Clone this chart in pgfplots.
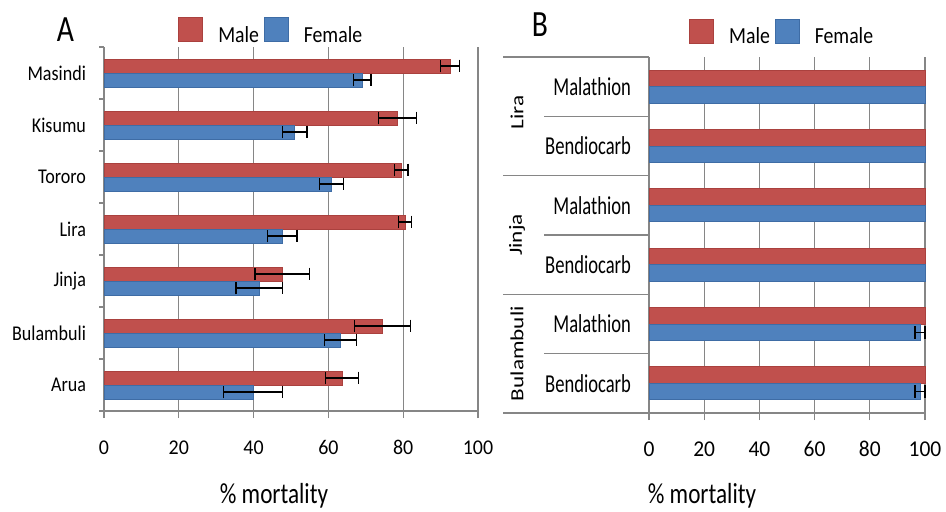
\documentclass[border=0pt]{standalone}
\usepackage{graphicx}
\usepackage{fontspec}
\usepackage{pgfplots}
\usepackage{pgfplotstable}
\pgfplotsset{compat=1.18}
\setmainfont[FakeStretch=0.86]{Carlito}
\newfontfamily\fA[FakeStretch=0.86]{Carlito}
\newfontfamily\fB[FakeStretch=0.72]{Carlito}
\newfontfamily\fC[FakeStretch=0.8]{Carlito}
\newfontfamily\fT[FakeStretch=0.95]{Carlito}
\newfontfamily\fN{Carlito}

\definecolor{mred}{RGB}{192,80,77}
\definecolor{mblue}{RGB}{79,129,189}
\definecolor{mredd}{RGB}{170,65,62}
\definecolor{mblued}{RGB}{62,108,165}
\definecolor{axgray}{RGB}{134,134,134}

% panel A: y = site index (0 = Arua ... 6 = Masindi), x = % mortality, e = error
\pgfplotstableread{
y x e
0 63.7 4.4
1 74.4 7.5
2 47.7 7.3
3 80.5 1.7
4 79.5 1.8
5 78.5 5.1
6 92.5 2.6
}\maleA
\pgfplotstableread{
y x e
0 39.9 7.9
1 63.3 4.3
2 41.5 6.2
3 47.7 3.9
4 60.9 3.2
5 51.0 3.3
6 69.1 2.3
}\femaleA

% panel B: 0/1 Bulambuli, 2/3 Jinja, 4/5 Lira (even = Bendiocarb, odd = Malathion)
\pgfplotstableread{
y x
0 100
1 100
2 100
3 100
4 100
5 100
}\maleB
\pgfplotstableread{
y x
2 100
3 100
4 100
5 100
}\femaleB
\pgfplotstableread{
y x e
0 98.2 1.8
1 98.2 1.8
}\femaleBerr

\pgfplotsset{
  panel/.style={
    scale only axis,
    anchor=south west,
    clip=false,
    xmin=0, xmax=100,
    xtick={0,20,...,100},
    axis x line*=bottom, axis y line*=left,
    axis line style={axgray, line width=0.6pt},
    tick align=outside,
    major tick length=3.5pt,
    every major x tick/.append style={axgray, line width=0.6pt},
    every major y tick/.append style={draw=none},
    xmajorgrids,
    grid style={axgray, line width=0.6pt},
    /pgf/number format/assume math mode=true,
    xbar,
    legend columns=2,
    legend style={draw=none, fill=none, inner sep=0pt, anchor=west,
      nodes={inner sep=0pt},
      /tikz/every odd column/.append style={column sep=7.5pt},
      /tikz/every even column/.append style={column sep=2.5pt}},
    xlabel={\% mortality},
  },
  ebar/.style={error bars/.cd, x dir=both, x explicit,
    error bar style={black, line width=0.65pt},
    error mark options={rotate=90, black, mark size=3.2pt, line width=0.65pt}},
  redbox/.style={legend image code/.code={\filldraw[fill=mred,draw=mredd,line width=0.4pt] (0pt,-3pt) rectangle (12pt,9pt);}},
  bluebox/.style={legend image code/.code={\filldraw[fill=mblue,draw=mblued,line width=0.4pt] (0pt,-3pt) rectangle (12pt,9pt);}},
}

\begin{document}
\begin{tikzpicture}
\useasboundingbox (0,0) rectangle (473pt,255.5pt);

% ---------- A ----------
\begin{axis}[panel,
  at={(52pt,50pt)}, width=187pt, height=182pt,
  bar width=7pt,
  ymin=-0.5, ymax=6.5,
  ytick={0,...,6},
  yticklabels={Arua,Bulambuli,Jinja,Lira,Tororo,Kisumu,Masindi},
  minor ytick={-0.5,0.5,...,6.5},
  minor tick length=2.5pt,
  every minor y tick/.append style={axgray, line width=0.6pt},
  yticklabel style={font=\fA\fontsize{10.5}{12}\selectfont, anchor=east, xshift=-2pt},
  xticklabel style={font=\fT\fontsize{10.5}{12}\selectfont, anchor=base, yshift=-18pt},
  xlabel style={at={(axis description cs:0.4545,-0.253)}, anchor=base,
    font=\fC\fontsize{14.5}{16}\selectfont},
  legend style={at={(0.198,1.043)}, font=\fA\fontsize{11.5}{13}\selectfont},
]
\addlegendimage{redbox}
\addlegendentry{Male}
\addlegendimage{bluebox}
\addlegendentry{Female}

\addplot[fill=mred, draw=mredd, line width=0.4pt, bar shift=3.5pt, forget plot, ebar]
  table[x=x, y=y, x error=e] {\maleA};
\addplot[fill=mblue, draw=mblued, line width=0.4pt, bar shift=-3.5pt, forget plot, ebar]
  table[x=x, y=y, x error=e] {\femaleA};

\node[font=\fC\fontsize{18.5}{20}\selectfont] at (axis description cs:-0.103,1.0467) {A};
\end{axis}

% ---------- B ----------
\begin{axis}[panel,
  at={(324.5pt,49pt)}, width=138pt, height=178pt,
  bar width=8.25pt,
  ymin=-0.5, ymax=5.5,
  ytick={0,...,5},
  yticklabels={Bendiocarb,Malathion,Bendiocarb,Malathion,Bendiocarb,Malathion},
  yticklabel style={font=\fB\fontsize{12.9}{14}\selectfont, anchor=east, xshift=-2pt},
  xticklabel style={font=\fT\fontsize{11.3}{13}\selectfont, anchor=base, yshift=-18pt},
  xlabel style={at={(axis description cs:0.192,-0.253)}, anchor=base,
    font=\fC\fontsize{14.5}{16}\selectfont},
  legend style={at={(0.145,1.069)}, font=\fA\fontsize{11.5}{13}\selectfont},
]
\addlegendimage{redbox}
\addlegendentry{Male}
\addlegendimage{bluebox}
\addlegendentry{Female}

\addplot[fill=mred, draw=mredd, line width=0.4pt, bar shift=4.125pt, forget plot]
  table[x=x, y=y] {\maleB};
\addplot[fill=mblue, draw=mblued, line width=0.4pt, bar shift=-4.125pt, forget plot]
  table[x=x, y=y] {\femaleB};
\addplot[fill=mblue, draw=mblued, line width=0.4pt, bar shift=-4.125pt, forget plot, ebar]
  table[x=x, y=y, x error=e] {\femaleBerr};

% category separators
\pgfplotsinvokeforeach{-0.5,1.5,3.5,5.5}{
  \draw[axgray, line width=0.6pt] (axis cs:0,#1) -- ++(-73pt,0pt);
}
\pgfplotsinvokeforeach{0.5,2.5,4.5}{
  \draw[axgray, line width=0.6pt] (axis cs:0,#1) -- ++(-52.5pt,0pt);
}
\node[rotate=90, font=\fN\fontsize{11.6}{13}\selectfont] at ([xshift=-66pt,yshift=2pt]axis cs:0,4.5) {\scalebox{1}[0.8]{Lira}};
\node[rotate=90, font=\fN\fontsize{11.6}{13}\selectfont] at ([xshift=-66pt]axis cs:0,2.5) {\scalebox{1}[0.8]{Jinja}};
\node[rotate=90, font=\fN\fontsize{11.6}{13}\selectfont] at ([xshift=-66pt]axis cs:0,0.5) {\scalebox{1}[0.8]{Bulambuli}};

\node[font=\fC\fontsize{18.5}{20}\selectfont] at (axis description cs:-0.395,1.09) {B};
\end{axis}
\end{tikzpicture}
\end{document}
